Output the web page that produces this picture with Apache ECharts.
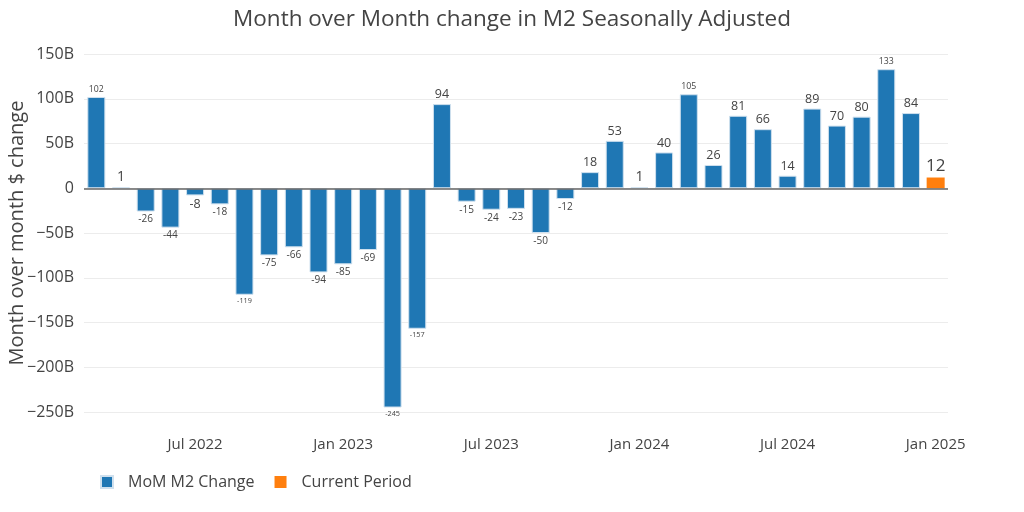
<!DOCTYPE html>
<html>
<head>
<meta charset="utf-8">
<script src="https://cdn.jsdelivr.net/npm/echarts@6/dist/echarts.min.js"></script>
<style>html,body{margin:0;padding:0;background:#fff;}#c{width:1024px;height:512px;}</style>
</head>
<body>
<div id="c"></div>
<script>
const categories = ['Mar 2022','Apr 2022','May 2022','Jun 2022','Jul 2022','Aug 2022','Sep 2022','Oct 2022','Nov 2022','Dec 2022',
  'Jan 2023','Feb 2023','Mar 2023','Apr 2023','May 2023','Jun 2023','Jul 2023','Aug 2023','Sep 2023','Oct 2023','Nov 2023','Dec 2023',
  'Jan 2024','Feb 2024','Mar 2024','Apr 2024','May 2024','Jun 2024','Jul 2024','Aug 2024','Sep 2024','Oct 2024','Nov 2024','Dec 2024',
  'Jan 2025'];
const momValues = [102, 1, -26, -44, -8, -18, -119, -75, -66, -94, -85, -69, -245, -157, 94, -15, -24, -23, -50, -12, 18, 53, 1, 40, 105, 26, 81, 66, 14, 89, 70, 80, 133, 84, null];
const currentValues = [null,null,null,null,null,null,null,null,null,null,null,null,null,null,null,null,null,null,null,null,null,null,null,null,null,null,null,null,null,null,null,null,null,null, 12];
const tickLabels = ['Jul 2022','Jan 2023','Jul 2023','Jan 2024','Jul 2024','Jan 2025'];
const yTicks = {min: -250, max: 150, interval: 50};

const FONT = '"Open Sans", sans-serif';
const TXT = '#444';

function textEm(s){ let w=0; for (const ch of s){ w += (ch==='-') ? 0.35 : 0.57; } return w; }
function fitSize(s){ const cap = s.length===1 ? 14 : 12.5; return Math.min(cap, 15/textEm(s)); }

const momData = momValues.map(v => {
  if (v === null) return null;
  const s = String(v);
  return { value: v, label: { position: v >= 0 ? 'top' : 'bottom', fontSize: fitSize(s) } };
});
const curData = currentValues.map(v => v === null ? null : { value: v, label: { position: v >= 0 ? 'top' : 'bottom' } });

const chart = echarts.init(document.getElementById('c'), null, {renderer: 'canvas'});
chart.setOption({
  backgroundColor: '#fff',
  animation: false,
  title: {
    text: 'Month over Month change in M2 Seasonally Adjusted',
    left: 'center', top: 3,
    textStyle: { fontFamily: FONT, fontSize: 22.5, fontWeight: 'normal', color: TXT }
  },
  legend: {
    left: 95, top: 469,
    itemWidth: 12, itemHeight: 12, itemGap: 20,
    icon: 'rect',
    textStyle: { fontFamily: FONT, fontSize: 16, color: TXT, padding: [0, 0, 0, 10] },
    data: ['MoM M2 Change', 'Current Period']
  },
  grid: { left: 84, right: 76, top: 54, bottom: 100, containLabel: false, outerBoundsMode: 'none' },
  xAxis: {
    type: 'category',
    data: categories,
    axisLine: { show: false },
    axisTick: { show: false },
    axisLabel: {
      interval: 0,
      margin: 25,
      fontFamily: FONT, fontSize: 15, color: TXT,
      formatter: v => tickLabels.includes(v) ? v : ''
    },
    splitLine: { show: false }
  },
  yAxis: {
    type: 'value',
    min: yTicks.min, max: yTicks.max, interval: yTicks.interval,
    name: 'Month over month $ change',
    nameLocation: 'middle', nameGap: 57, nameMoveOverlap: false,
    nameTextStyle: { fontFamily: FONT, fontSize: 20, color: TXT },
    axisLine: { show: false }, axisTick: { show: false },
    axisLabel: {
      margin: 10, fontFamily: FONT, fontSize: 16, color: TXT,
      formatter: v => v === 0 ? '0' : (v < 0 ? '\u2212' + Math.abs(v) + 'B' : v + 'B')
    },
    splitLine: { lineStyle: { color: '#ececec', width: 1 } }
  },
  series: [
    {
      name: 'MoM M2 Change', type: 'bar', data: momData,
      barCategoryGap: '27%', barGap: '-100%',
      itemStyle: { color: '#1f77b4', borderColor: '#cfe0ee', borderWidth: 1 },
      label: { show: true, distance: 3, color: TXT, fontFamily: FONT },
      markLine: {
        silent: true, symbol: 'none', label: { show: false },
        lineStyle: { color: '#666', width: 1.5, type: 'solid' },
        data: [{ yAxis: 0 }]
      }
    },
    {
      name: 'Current Period', type: 'bar', data: curData,
      barCategoryGap: '27%', barGap: '-100%',
      itemStyle: { color: '#ff7f0e' },
      label: { show: true, distance: 3, color: TXT, fontFamily: FONT, fontSize: 17 }
    }
  ]
});
</script>
</body>
</html>
